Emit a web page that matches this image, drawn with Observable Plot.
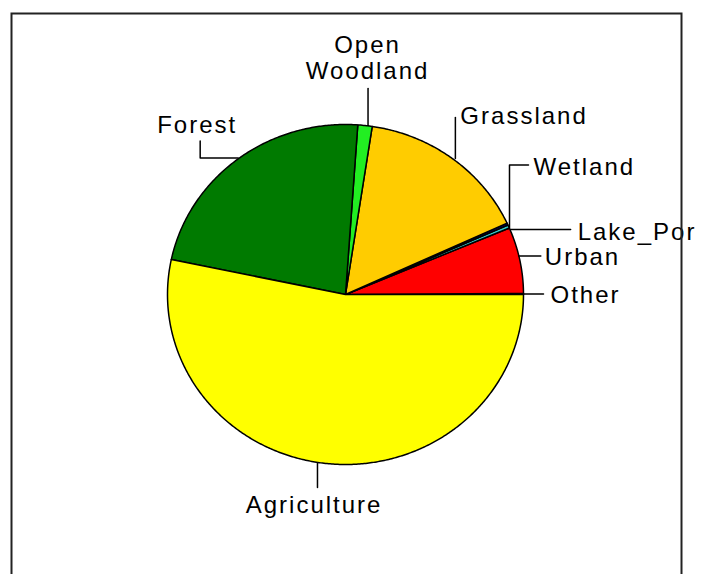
<!DOCTYPE html>
<html>
<head>
<meta charset="utf-8">
<script src="https://cdn.jsdelivr.net/npm/d3@7"></script>
<script src="https://cdn.jsdelivr.net/npm/@observablehq/plot@0.6"></script>
<style>
  html, body { margin: 0; padding: 0; background: #fff; }
  #chart svg text { letter-spacing: 2px; }
</style>
</head>
<body>
<div id="chart"></div>
<script>
// ---- data ----
const categories = ["Other", "Urban", "Lake_Por", "Wetland", "Grassland", "Open Woodland", "Forest", "Agriculture"];
const values     = [0.1, 6.3, 0.3, 0.2, 15.7, 1.3, 22.8, 53.3];
const labels     = ["Other", "Urban", "Lake_Por", "Wetland", "Grassland", "Open\nWoodland", "Forest", "Agriculture"];
const colors     = ["#808080", "#ff0000", "#33cccc", "#000080", "#ffcc00", "#22ee22", "#007a00", "#ffff00"];

// ---- layout ----
const W = 707, H = 574;
const CX = 345, CY = 294;   // pie centre in px
const RX = 178, RY = 170;   // px per unit radius
const labelLayout = {
  "Other":         {path: [[0, 0], [20, 0]],                 text: [27, 9],     anchor: "start"},
  "Urban":         {path: [[-1, -4], [21, -4]],              text: [25, 4.5],   anchor: "start"},
  "Lake_Por":      {path: [[2, 3], [62, 3]],                 text: [69, 14],    anchor: "start"},
  "Wetland":       {path: [[2, 4], [2, -59], [21, -59]],     text: [26, -49],   anchor: "start"},
  "Grassland":     {path: [[3, 0], [3, -41]],                text: [8, -35],    anchor: "start"},
  "Open Woodland": {path: [[3, 0], [3, -37]],                text: [2.5, -47],  anchor: "middle"},
  "Forest":        {path: [[0, -1], [-38, -1], [-38, -18]],  text: [-81, -25.5], anchor: "start"},
  "Agriculture":   {path: [[-9.6, 0], [-9.6, 24]],           text: [-13, 49],   anchor: "middle"}
};

// ---- geometry from values ----
const total = d3.sum(values);
const slices = [];
const leaders = [];
const texts = [];
let a0 = 0;
categories.forEach((cat, i) => {
  const span = values[i] / total * 2 * Math.PI;
  const a1 = a0 + span;
  const n = Math.max(2, Math.ceil(span / (Math.PI / 360)));
  slices.push({cat, x: 0, y: 0});
  for (let k = 0; k <= n; k++) {
    const a = a0 + span * k / n;
    slices.push({cat, x: Math.cos(a), y: Math.sin(a)});
  }
  const am = (a0 + a1) / 2;
  const ax = Math.cos(am), ay = Math.sin(am);
  const L = labelLayout[cat];
  L.path.forEach(([px, py]) => leaders.push({cat, x: ax + px / RX, y: ay - py / RY}));
  texts.push({cat, label: labels[i], x: ax + L.text[0] / RX, y: ay - L.text[1] / RY, anchor: L.anchor});
  a0 = a1;
});

const font = {fontSize: 24, fontFamily: "'Liberation Sans', Arial, sans-serif", fill: "black", lineAnchor: "bottom", lineHeight: 1.083};

const chart = Plot.plot({
  width: W,
  height: H,
  margin: 0,
  x: {domain: [-CX / RX, (W - CX) / RX], axis: null},
  y: {domain: [-(H - CY) / RY, CY / RY], axis: null},
  color: {type: "ordinal", domain: categories, range: colors},
  marks: [
    Plot.line(slices, {x: "x", y: "y", z: "cat", fill: "cat", stroke: "black", strokeWidth: 1.5, curve: "linear-closed", strokeLinejoin: "round"}),
    Plot.line(leaders, {x: "x", y: "y", z: "cat", stroke: "black", strokeWidth: 1.5}),
    Plot.text(texts.filter(d => d.anchor === "start"), {x: "x", y: "y", text: "label", textAnchor: "start", ...font}),
    Plot.text(texts.filter(d => d.anchor === "middle"), {x: "x", y: "y", text: "label", textAnchor: "middle", ...font}),
    Plot.frame({stroke: "#222", strokeWidth: 2, insetLeft: 11, insetTop: 13, insetRight: 26, insetBottom: -10})
  ]
});
document.getElementById("chart").appendChild(chart);
</script>
</body>
</html>
